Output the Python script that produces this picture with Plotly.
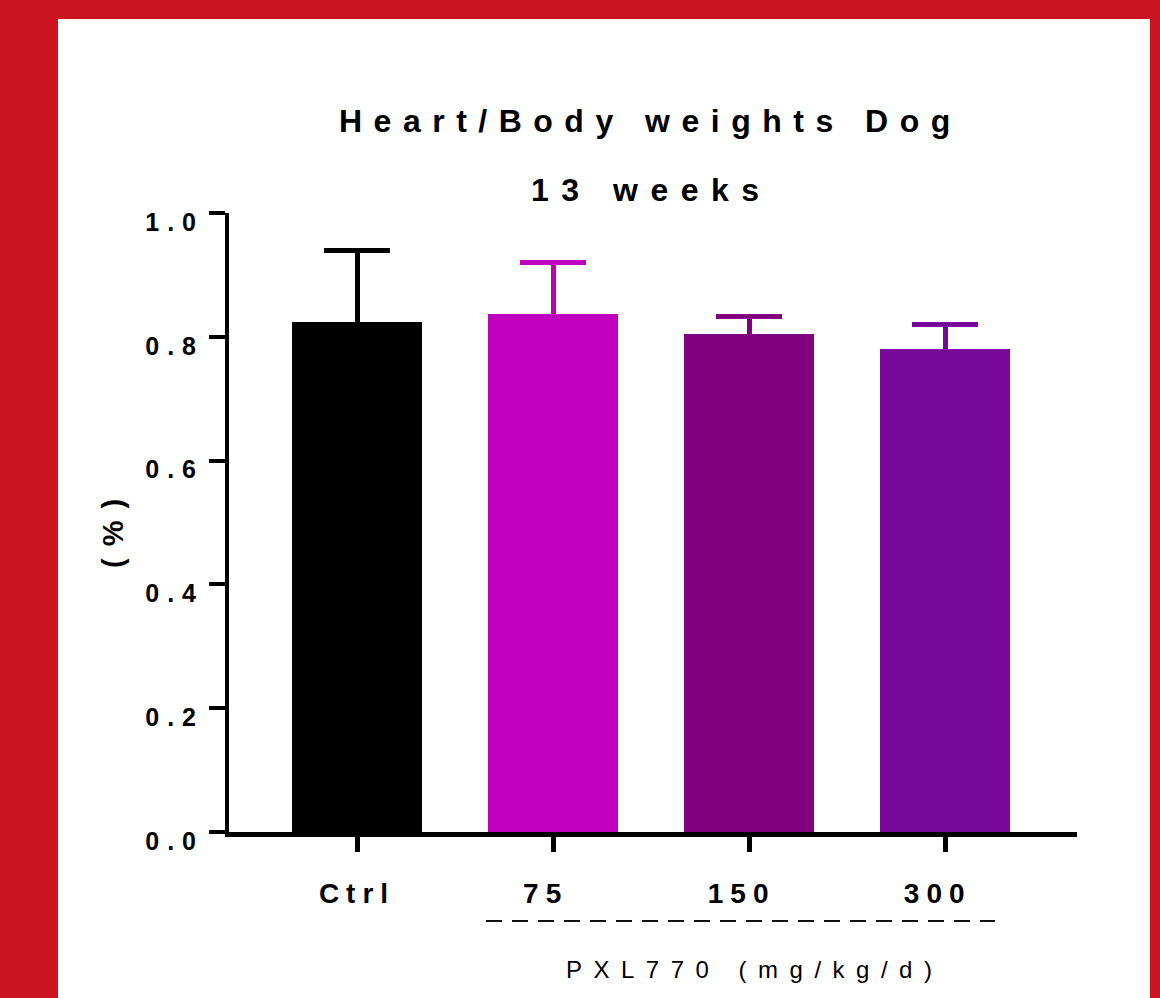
import plotly.graph_objects as go

# Heart/body weight ratio (%) by dose group, 13-week dog study
groups = ["Ctrl", "75", "150", "300"]
group_labels = ["Ctrl", "75\u00a0", "150\u00a0", "300\u00a0"]
ratio_mean = [0.824, 0.837, 0.804, 0.780]
ratio_sd = [0.116, 0.083, 0.029, 0.040]
bar_colors = ["#000000", "#BF00BF", "#80007E", "#77089A"]

y_ticks = [0.0, 0.2, 0.4, 0.6, 0.8, 1.0]
y_tick_labels = ["0.0", "0.2", "0.4", "0.6", "0.8", "1.0"]

FONT = "Liberation Sans, Arial, sans-serif"


def spaced(text, px):
    return f'<span style="letter-spacing:{px}px">{text}</span>'


fig = go.Figure()
for i, (g, m, sd, c) in enumerate(zip(groups, ratio_mean, ratio_sd, bar_colors)):
    fig.add_trace(go.Bar(
        x=[i], y=[m], width=0.66, name=g,
        marker=dict(color=c, line=dict(width=0)),
        error_y=dict(type="data", symmetric=True, array=[sd],
                     color=c, thickness=5, width=33),
        showlegend=False, hoverinfo="skip",
    ))

W, H = 1160, 998
L, R, T, B = 229, 83, 213, 166
pw, ph = W - L - R, H - T - B


def px_x(p):
    return (p - L) / pw


def px_y(p):
    return (H - B - p) / ph


shapes = [
    # white card behind the chart
    dict(type="rect", xref="paper", yref="paper", layer="below",
         x0=px_x(58), x1=px_x(1150), y0=px_y(1010), y1=px_y(19),
         fillcolor="white", line=dict(width=0)),
    # dashed bracket under the PXL770 dose groups
    dict(type="line", xref="x", yref="paper",
         x0=0.658, x1=3.255, y0=px_y(921), y1=px_y(921),
         line=dict(color="#111111", width=2, dash="16px,10px")),
]

annotations = [
    dict(text=spaced("<b>Heart/Body weights Dog</b>", 11.5), xref="paper", yref="paper",
         x=px_x(650), y=px_y(121), xanchor="center", yanchor="middle",
         showarrow=False, font=dict(family=FONT, size=32, color="black")),
    dict(text=spaced("<b>13 weeks</b>", 12.5), xref="paper", yref="paper",
         x=px_x(651), y=px_y(190), xanchor="center", yanchor="middle",
         showarrow=False, font=dict(family=FONT, size=32, color="black")),
    dict(text=spaced("<b>(%)</b>", 12), xref="paper", yref="paper",
         x=px_x(113), y=px_y(528), xanchor="center", yanchor="middle", textangle=-90,
         showarrow=False, font=dict(family=FONT, size=29, color="black")),
    dict(text=spaced("PXL770 (mg/kg/d)", 11.5), xref="paper", yref="paper",
         x=px_x(754), y=px_y(969), xanchor="center", yanchor="middle",
         showarrow=False, font=dict(family=FONT, size=24, color="black")),
]

fig.update_layout(
    width=W, height=H, autosize=False,
    margin=dict(l=L, r=R, t=T, b=B, pad=0),
    paper_bgcolor="#C9141F", plot_bgcolor="white",
    barmode="overlay", bargap=0,
    shapes=shapes, annotations=annotations,
    font=dict(family=FONT, color="black"),
    xaxis=dict(
        range=[-0.653, 3.673], tickmode="array", tickvals=list(range(len(groups))),
        ticktext=[spaced(f"<b>{g}</b>", 7) for g in group_labels],
        ticks="outside", ticklen=15, tickwidth=5, tickcolor="black",
        showline=True, linewidth=5, linecolor="black",
        showgrid=False, zeroline=False, fixedrange=True,
        tickfont=dict(family=FONT, size=28, color="black"),
        ticklabelstandoff=17,
    ),
    yaxis=dict(
        range=[0, 1], tickmode="array", tickvals=y_ticks,
        ticktext=[spaced(f"<b>{t}</b>", 8) for t in y_tick_labels],
        ticks="outside", ticklen=16, tickwidth=4, tickcolor="black",
        showline=True, linewidth=4, linecolor="black",
        showgrid=False, zeroline=False, fixedrange=True,
        tickfont=dict(family=FONT, size=25, color="black"),
        ticklabelshift=9, ticklabelstandoff=0,
    ),
)

fig.write_html("out.html")
